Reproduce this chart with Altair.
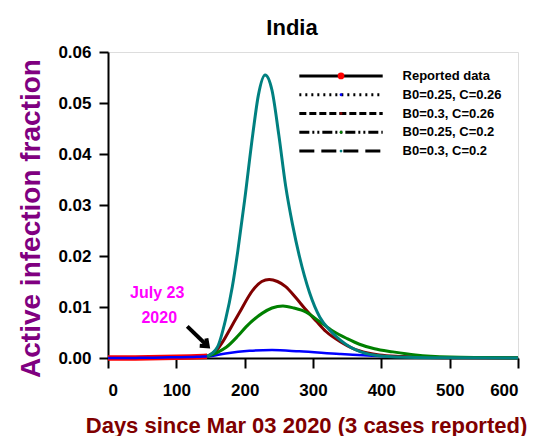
import altair as alt
import pandas as pd

# ---------------- data ----------------
reported_days = [0, 20, 40, 60, 80, 100, 120, 130, 140, 145]
reported_vals = [0.0, 0.00001, 0.00002, 0.00005, 0.0001, 0.00015, 0.0002, 0.00025, 0.0003, 0.00032]

# B0=0.25, C=0.26 (blue)
blue_days = [0, 20, 40, 60, 80, 100, 120, 130, 140, 145, 172, 207, 240, 280, 339, 397, 450, 500, 600]
blue_vals = [0.0, 0.00001, 0.00002, 0.00005, 0.0001, 0.00015, 0.0002, 0.00025, 0.0003, 0.00032,
             0.0009, 0.0014, 0.00155, 0.0013, 0.0008, 0.0004, 0.0002, 0.0001, 0.00003]

# B0=0.3, C=0.26 (dark red)
dred_days = [145, 160, 168, 180, 192, 212, 225, 236, 248, 260, 275, 290, 305, 319, 340, 358, 380,
             397, 430, 470, 520, 600]
dred_vals = [0.0003, 0.0017, 0.0032, 0.0060, 0.0088, 0.0133, 0.0150, 0.0154, 0.0150, 0.0140, 0.0118,
             0.0094, 0.0072, 0.0052, 0.0032, 0.0019, 0.0010, 0.0006, 0.0003, 0.0001, 0.00003, 0.0]

# B0=0.25, C=0.2 (green)
green_days = [145, 160, 173, 190, 202, 226, 240, 256, 272, 290, 310, 329, 350, 368, 390, 417, 450,
              500, 550, 600]
green_vals = [0.0003, 0.0011, 0.0021, 0.0043, 0.0061, 0.0088, 0.0098, 0.0102, 0.0098, 0.0090, 0.0071,
              0.0053, 0.0038, 0.0027, 0.0018, 0.0012, 0.0006, 0.0002, 0.0001, 0.00003]

# B0=0.3, C=0.2 (teal)
teal_days = [145, 160, 172, 182, 190, 200, 212, 220, 230, 240, 250, 260, 270, 280, 295, 310, 325,
             340, 355, 370, 400, 450, 500, 600]
teal_vals = [0.0003, 0.0021, 0.0075, 0.0140, 0.0210, 0.0310, 0.0440, 0.0515, 0.0555, 0.0525, 0.0437,
             0.0337, 0.0262, 0.0200, 0.0128, 0.0080, 0.0054, 0.0035, 0.0021, 0.0012, 0.0004, 0.0001,
             0.00003, 0.0]

series_names = ["Reported data", "B0=0.25, C=0.26", "B0=0.3, C=0.26", "B0=0.25, C=0.2", "B0=0.3, C=0.2"]
series_colors = ["#FF0000", "#0000FF", "#800000", "#008000", "#008080"]
legend_dashes = [[1, 0], [2, 4], [7, 3], [10, 3, 2, 3, 2, 3], [15, 7]]

x_ticks = [0, 100, 200, 300, 400, 500, 600]
y_ticks = [0.0, 0.01, 0.02, 0.03, 0.04, 0.05, 0.06]

annotation_lines = ["July 23", "2020"]

# ---------------- layout ----------------
FONT = "Liberation Sans"
X = alt.Scale(domain=[0, 600], nice=False, zero=False)
Y = alt.Scale(domain=[0, 0.06], nice=False)

def curve(days, vals, color, width):
    df = pd.DataFrame({"day": days, "val": vals})
    return alt.Chart(df).mark_line(color=color, strokeWidth=width, interpolate="monotone").encode(
        x=alt.X("day:Q", scale=X),
        y=alt.Y("val:Q", scale=Y),
    )

base_x = alt.X("day:Q", scale=X, title="Days since Mar 03 2020 (3 cases reported)",
               axis=alt.Axis(values=x_ticks, format="d", grid=False, tickSize=10, tickWidth=2,
                             tickColor="black", domainColor="black", domainWidth=2,
                             labelFont=FONT, labelFontSize=17, labelFontWeight="bold",
                             labelColor="black", labelPadding=14, titleFont=FONT,
                             titleFontSize=22, titleFontWeight="bold", titleColor="#800000",
                             titleX=198, titleY=67, titleBaseline="middle", titleAlign="center"))
base_y = alt.Y("val:Q", scale=Y, title="Active infection fraction",
               axis=alt.Axis(values=y_ticks, format=".2f", grid=False, tickSize=9, tickWidth=2,
                             tickColor="black", domainColor="black", domainWidth=2,
                             labelFont=FONT, labelFontSize=17, labelFontWeight="bold",
                             labelColor="black", labelPadding=8, titleFont=FONT,
                             titleFontSize=28, titleFontWeight="bold", titleColor="#800080",
                             titleX=-77, titleY=166, titleBaseline="middle", titleAlign="center",
                             titleAngle=270))

rep_df = pd.DataFrame({"day": reported_days, "val": reported_vals})
reported = alt.Chart(rep_df).mark_line(color=series_colors[0], strokeWidth=5.5).encode(x=base_x, y=base_y)

layers = [reported,
          curve(blue_days, blue_vals, series_colors[1], 2.5),
          curve(dred_days, dred_vals, series_colors[2], 3),
          curve(green_days, green_vals, series_colors[3], 3),
          curve(teal_days, teal_vals, series_colors[4], 3)]

# legend (drawn inside the plot, in data units)
leg_top = 0.0553
leg_step = 0.00368
leg_df = pd.DataFrame({
    "name": series_names,
    "color": series_colors,
    "x0": [280] * 5,
    "x1": [402] * 5,
    "xm": [341] * 5,
    "xt": [431] * 5,
    "y": [leg_top - i * leg_step for i in range(5)],
    "msize": [45, 8, 8, 8, 8],
})
leg_lines = alt.Chart(leg_df).mark_rule(color="black", strokeWidth=3).encode(
    x=alt.X("x0:Q", scale=X), x2="x1:Q", y=alt.Y("y:Q", scale=Y),
    strokeDash=alt.StrokeDash("name:N", scale=alt.Scale(domain=series_names, range=legend_dashes),
                              legend=None))
leg_pts = alt.Chart(leg_df).mark_point(filled=True, opacity=1).encode(
    x=alt.X("xm:Q", scale=X), y=alt.Y("y:Q", scale=Y),
    color=alt.Color("name:N", scale=alt.Scale(domain=series_names, range=series_colors), legend=None),
    size=alt.Size("msize:Q", scale=None, legend=None))
leg_text = alt.Chart(leg_df).mark_text(align="left", baseline="middle", font=FONT, fontSize=13,
                                       fontWeight="bold", color="black").encode(
    x=alt.X("xt:Q", scale=X), y=alt.Y("y:Q", scale=Y), text="name:N")

# annotation
ann_df = pd.DataFrame({"txt": annotation_lines, "day": [72, 75], "val": [0.01275, 0.00784]})
ann = alt.Chart(ann_df).mark_text(font=FONT, fontSize=16, fontWeight="bold", color="#FF00FF",
                                  align="center", baseline="middle").encode(
    x=alt.X("day:Q", scale=X), y=alt.Y("val:Q", scale=Y), text="txt:N")

arrow_df = pd.DataFrame({"x0": [116], "y0": [0.0062], "x1": [146], "y1": [0.0023]})
arrow_shaft = alt.Chart(arrow_df).mark_rule(color="black", strokeWidth=4).encode(
    x=alt.X("x0:Q", scale=X), y=alt.Y("y0:Q", scale=Y), x2="x1:Q", y2="y1:Q")
arrow_head = alt.Chart(arrow_df).mark_point(
    shape="M-0.7,0.9 L0,0 L0.7,0.9", filled=False, stroke="black", strokeWidth=4, size=200,
    angle=132, opacity=1).encode(x=alt.X("x1:Q", scale=X), y=alt.Y("y1:Q", scale=Y))

chart = alt.layer(*layers, leg_lines, leg_pts, leg_text, ann, arrow_shaft, arrow_head).properties(
    width=410, height=306,
    title=alt.TitleParams("India", font=FONT, fontSize=22, fontWeight="bold", color="black",
                          anchor="middle", dx=-21, offset=3),
    padding={"left": 100, "top": 44, "right": 30, "bottom": 78},
    autosize=alt.AutoSizeParams(type="none"),
).configure_view(stroke="black", strokeWidth=2).configure(background="white")

chart.save("out.html", embed_options={"renderer": "svg", "actions": False})
